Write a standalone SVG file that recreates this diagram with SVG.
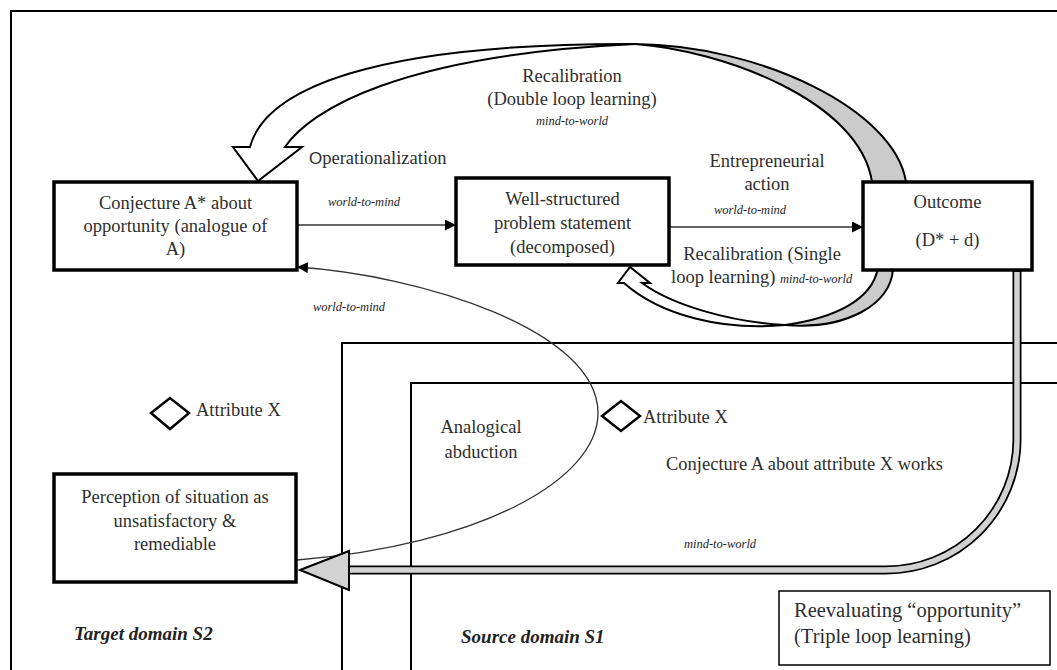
<svg xmlns="http://www.w3.org/2000/svg" width="1057" height="670" viewBox="0 0 1057 670">
<defs>
<style>
.t{font-family:"Liberation Serif","Times New Roman",serif;font-size:18.5px;fill:#2e2e2e}
.c{text-anchor:middle}
.i{font-family:"Liberation Serif","Times New Roman",serif;font-style:italic;font-size:12.5px;fill:#1e1e1e}
.dom{font-family:"Liberation Serif","Times New Roman",serif;font-style:italic;font-weight:bold;font-size:19px;fill:#222}
.box{fill:#fff;stroke:#000;stroke-width:3.5}
.ln{fill:none;stroke:#000;stroke-width:2}
.thin{fill:none;stroke:#333;stroke-width:1.3}
.ribw{fill:#fff;stroke:#000;stroke-width:2;stroke-linejoin:miter}
.ribg{fill:#cbcbcb;stroke:#000;stroke-width:2;stroke-linejoin:round}
.dia{fill:#fff;stroke:#000;stroke-width:2.5}
</style>
<marker id="ah" viewBox="0 0 10 10" refX="10" refY="5" markerWidth="11" markerHeight="11" markerUnits="userSpaceOnUse" orient="auto"><path d="M0,0 L10,5 L0,10 z" fill="#000"/></marker>
</defs>
<rect width="1057" height="670" fill="#fff"/>
<g id="frame"><path d="M1057,11 H11 V670" class="ln" stroke-width="2.5"/></g>
<g id="source-domain-outer"><path d="M1057,343 H342 V670" class="ln"/></g>
<g id="source-domain-inner"><path d="M1057,383 H411 V670" class="ln"/></g>

<g id="connectors">
<path d="M297,225 H456" class="thin" marker-end="url(#ah)"/>
<path d="M669,227 H863" class="thin" marker-end="url(#ah)"/>
<path d="M297,560 C480,545 598,480 598,413 C598,330 420,275 297,267" class="thin" marker-end="url(#ah)"/>
<path d="M285,147 C310,110 400,55 635,44 C370,43 265,90 250,147 L233,147 L258,181 L302,147 Z" class="ribw"/>
<path d="M635,44 C760,45 895,110 906,182 L872,182 C860,100 720,50 635,44 Z" class="ribg"/>
<path d="M642,283 C672,305 730,322 785,325 C722,331 660,315 624,283 L618,283 L630,267 L650,283 Z" class="ribw"/>
<path d="M785,325 C835,318 872,300 878,268 L893,268 C892,305 845,330 785,325 Z" class="ribg"/>
<path d="M1017,271 V440 A131,131 0 0 1 886,570 H348" fill="none" stroke="#000" stroke-width="9"/>
<path d="M1017,272 V440 A131,131 0 0 1 886,570 H346" fill="none" stroke="#d2d2d2" stroke-width="5.5"/>
<polygon points="300,570 349,551 349,590" fill="#d2d2d2" stroke="#000" stroke-width="2" stroke-linejoin="miter"/>
</g>

<g id="conjecture-a-star">
<rect x="54" y="182" width="243" height="88" class="box"/>
<text class="t c" x="175.5" y="209">Conjecture A* about</text>
<text class="t c" x="175.5" y="232">opportunity (analogue of</text>
<text class="t c" x="175.5" y="255">A)</text>
</g>
<g id="well-structured">
<rect x="456" y="178" width="213" height="87" class="box"/>
<text class="t c" x="562.5" y="205">Well-structured</text>
<text class="t c" x="562.5" y="229">problem statement</text>
<text class="t c" x="562.5" y="253">(decomposed)</text>
</g>
<g id="outcome">
<rect x="863" y="182" width="169" height="88" class="box"/>
<text class="t c" x="947.5" y="208">Outcome</text>
<text class="t c" x="947.5" y="246">(D* + d)</text>
</g>
<g id="perception">
<rect x="54" y="474" width="242" height="108" class="box"/>
<text class="t c" x="175" y="503">Perception of situation as</text>
<text class="t c" x="175" y="527">unsatisfactory &amp;</text>
<text class="t c" x="175" y="550">remediable</text>
</g>
<g id="reevaluating">
<rect x="779" y="591" width="271" height="74" fill="#fff" stroke="#000" stroke-width="1.5"/>
<text class="t" x="794" y="617" style="font-size:20.5px">Reevaluating “opportunity”</text>
<text class="t" x="794" y="643" style="font-size:20.5px">(Triple loop learning)</text>
</g>
<g id="attribute-x-target">
<polygon points="151,413 170,398 189,413 170,429" class="dia"/>
<text class="t" x="196" y="416">Attribute X</text>
</g>
<g id="attribute-x-source">
<polygon points="602,416 621,401 640,416 621,431" class="dia"/>
<text class="t" x="643" y="423">Attribute X</text>
</g>

<g id="labels">
<text class="t c" x="572" y="82">Recalibration</text>
<text class="t c" x="572" y="105">(Double loop learning)</text>
<text class="i c" x="572" y="125">mind-to-world</text>
<text class="t" x="309" y="164"><tspan font-family="Liberation Sans, Arial, sans-serif" font-size="17">O</tspan>perationalization</text>
<text class="i c" x="364" y="206">world-to-mind</text>
<text class="i c" x="349" y="311">world-to-mind</text>
<text class="t c" x="767" y="167">Entrepreneurial</text>
<text class="t c" x="767" y="190">action</text>
<text class="i c" x="750" y="214">world-to-mind</text>
<text class="t c" x="762" y="260">Recalibration (Single</text>
<text class="t" x="671" y="283">loop learning) <tspan class="i">mind-to-world</tspan></text>
<text class="t c" x="481" y="433">Analogical</text>
<text class="t c" x="481" y="458">abduction</text>
<text class="t" x="666" y="470">Conjecture A about attribute X works</text>
<text class="i c" x="720" y="548">mind-to-world</text>
<text class="dom" x="74" y="640">Target domain S2</text>
<text class="dom" x="461" y="643">Source domain S1</text>
</g>
</svg>
